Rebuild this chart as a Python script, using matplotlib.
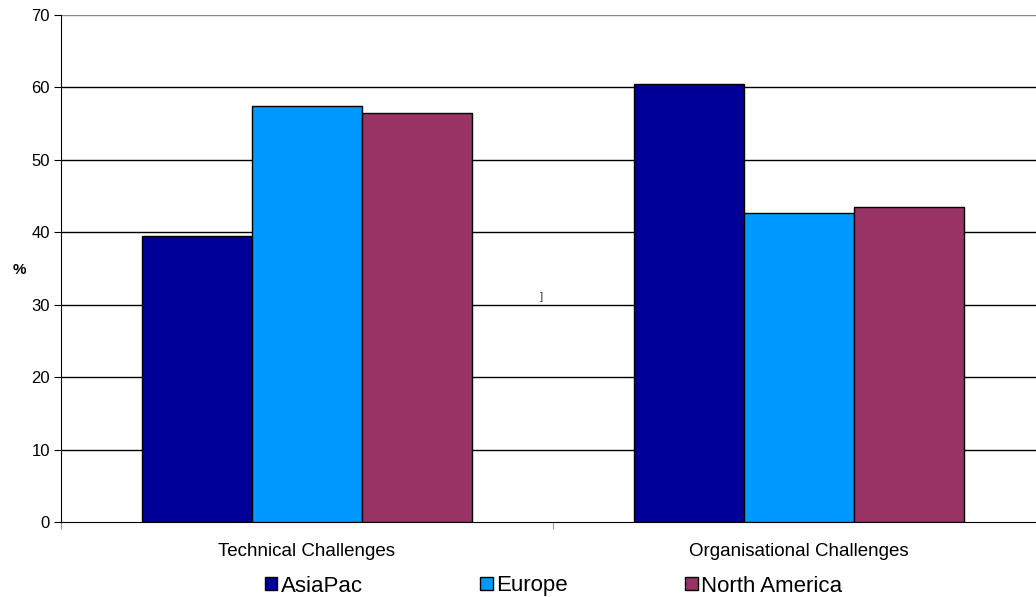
import matplotlib
matplotlib.use('Agg')
import matplotlib.pyplot as plt
import numpy as np

plt.rcParams['font.family'] = ['Liberation Sans', 'DejaVu Sans']

categories = ['Technical Challenges', 'Organisational Challenges']
series = ['AsiaPac', 'Europe', 'North America']
asiapac = [39.5, 60.5]
europe = [57.4, 42.6]
north_america = [56.5, 43.5]
colors = ['#000099', '#0099FF', '#993366']

W, H = 1036, 597
fig = plt.figure(figsize=(W / 100, H / 100), dpi=100)
ax = fig.add_axes([61 / W, (H - 522) / H, (1045 - 61) / W, (522 - 15) / H])

x = np.arange(len(categories))
bw = 0.2236
for i, (vals, name) in enumerate(zip([asiapac, europe, north_america], series)):
    ax.bar(x + (i - 1) * bw, vals, bw, color=colors[i], edgecolor='black',
           linewidth=1, label=name, zorder=3)

ax.set_xlim(-0.5, 1.5)
ax.set_ylim(0, 70)
ax.set_yticks(range(0, 71, 10))
for yv in range(10, 71, 10):
    ax.axhline(yv, color='#888888' if yv == 70 else 'black', linewidth=1, zorder=1)

# categories as minor labels, ticks between them
ax.set_xticks([-0.5, 0.5, 1.5])
ax.set_xticklabels([])
ax.set_xticks(x, minor=True)
ax.set_xticklabels(categories, minor=True, fontsize=13.5)
ax.tick_params(axis='x', which='minor', length=0, pad=15)
ax.tick_params(axis='x', which='major', length=5, color='#999999')
ax.tick_params(axis='y', length=5, labelsize=12, pad=3)

for s in ['top', 'right']:
    ax.spines[s].set_visible(False)
ax.spines['left'].set_color('black')
ax.spines['bottom'].set_color('black')

fig.text(19 / W, 1 - 270 / H, '%', fontsize=11, fontweight='bold', ha='center', va='center')

ax.text(0.476, 31.1, ']', fontsize=8, ha='center', va='center', color='#333333')

fig.legend(loc='center left', bbox_to_anchor=(265 / W, 1 - 586 / H), ncol=3,
           frameon=False, fontsize=16, handlelength=0.55, handleheight=0.55,
           handletextpad=0.15, columnspacing=5.3, borderpad=0, borderaxespad=0)

fig.savefig('out.png', dpi=100)
